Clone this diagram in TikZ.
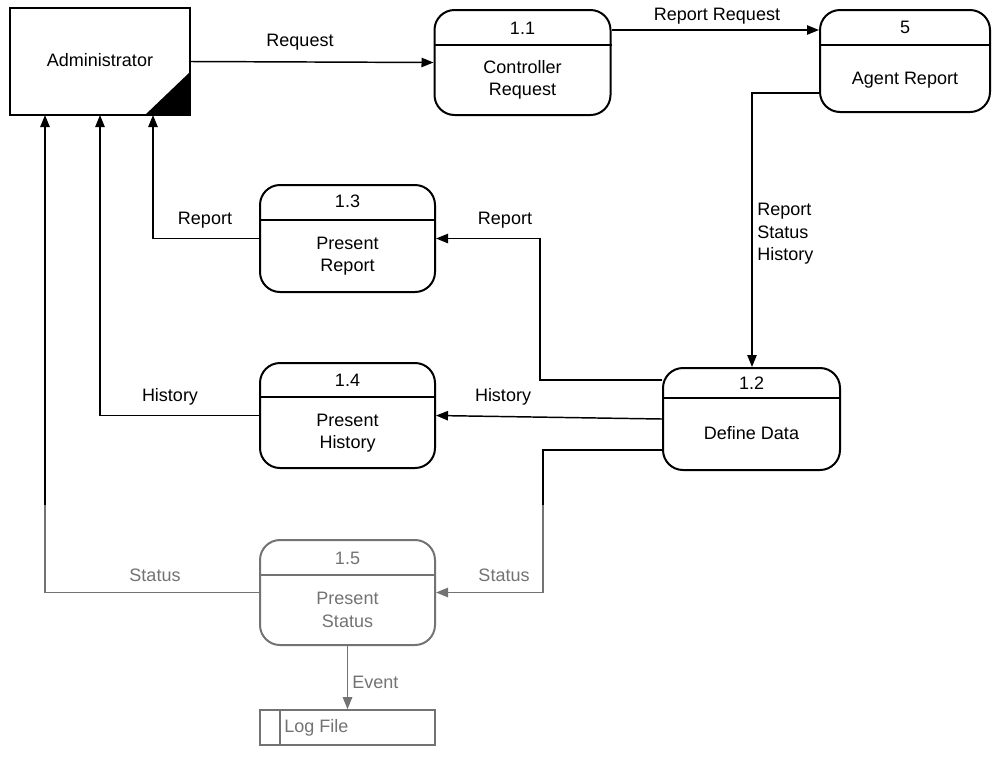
\documentclass[tikz,border=0pt]{standalone}
\usepackage{fontspec}
\setmainfont{Liberation Sans}
\usetikzlibrary{arrows.meta}
\begin{document}
\begin{tikzpicture}[x=0.75pt,y=-0.75pt,
  every node/.style={font=\fontsize{13.5}{17}\selectfont, inner sep=0pt},
  proc/.style={draw, line width=1.5pt, rounded corners=15pt, minimum width=#1},
  proc/.default={176*0.75pt},
  divider/.style={line width=1.5pt},
  flow/.style={line width=1.1pt, -{Triangle[length=9pt,width=7pt]}},
  txt/.style={align=center},
  lbl/.style={}]
\useasboundingbox (0,0) rectangle (998,758);

% external entity
\node[draw, line width=1.5pt, minimum width=180*0.75pt, minimum height=107*0.75pt] (adm) at (100,61.5) {};
\fill (145,115) -- (190,115) -- (190,72) -- cycle;
\node (admt) at (100,60) {Administrator};
\coordinate (a1) at (45,115);
\coordinate (a2) at (100,115);
\coordinate (a3) at (153,115);

% processes
\node[proc, minimum height=105*0.75pt] (p11) at (522.5,62.5) {};
\draw[divider] (p11.west |- 0,45) -- (p11.east |- 0,45);
\node (p11n) at (522.5,28) {1.1};
\node[txt] (p11t) at (522.5,80) {Controller\\Request};

\node[proc=170*0.75pt, minimum height=102*0.75pt] (p5) at (905,61) {};
\draw[divider] (p5.west |- 0,45) -- (p5.east |- 0,45);
\node (p5n) at (905,27) {5};
\node (p5t) at (905,80) {Agent Report};

\node[proc=177*0.75pt, minimum height=102*0.75pt] (p12) at (751.5,419) {};
\draw[divider] (p12.west |- 0,398) -- (p12.east |- 0,398);
\node (p12n) at (751.5,383) {1.2};
\node (p12t) at (751.5,433) {Define Data};

\node[proc=175*0.75pt, minimum height=107*0.75pt] (p13) at (347.5,238.5) {};
\draw[divider] (p13.west |- 0,220) -- (p13.east |- 0,220);
\node (p13n) at (347.5,201) {1.3};
\node[txt] (p13t) at (347.5,256) {Present\\Report};

\node[proc=175*0.75pt, minimum height=105*0.75pt] (p14) at (347.5,415.5) {};
\draw[divider] (p14.west |- 0,397) -- (p14.east |- 0,397);
\node (p14n) at (347.5,380) {1.4};
\node[txt] (p14t) at (347.5,433) {Present\\History};

\node[proc=175*0.75pt, minimum height=105*0.75pt] (p15) at (347.5,592.5) {};
\draw[divider] (p15.west |- 0,575) -- (p15.east |- 0,575);
\node (p15n) at (347.5,558) {1.5};
\node[txt] (p15t) at (347.5,610) {Present\\Status};

% data store
\node[draw, line width=1.2pt, minimum width=175*0.75pt, minimum height=35*0.75pt] (log) at (347.5,727.5) {};
\draw[line width=1.2pt] (280,710) -- (280,745);
\node[anchor=west] (logt) at (284,728) {Log File};

% bend points
\coordinate (rr) at (0,30);
\coordinate (ag) at (752,93);
\coordinate (r1) at (540,380);
\coordinate (s1) at (543,450);

% data flows
\draw[flow] (adm.east) -- (p11.west);
\node (l1) at (300,42) {Request};
\draw[flow] (p11.east |- rr) -- (p5.west |- rr);
\node (l2) at (717,16) {Report Request};
\draw[flow] (p5.west |- ag) -- (ag) -- (ag |- p12.north);
\node[anchor=north west, align=left] (l3) at (757,203) {Report\\Status\\History};
\draw[flow] (p12.west |- r1) -- (r1) |- (p13.east);
\node (l4) at (505,220) {Report};
\draw[flow] (p13.west) -| (a3);
\node (l5) at (205,220) {Report};
\draw[flow] (p12.west) -- (p14.east);
\node (l6) at (503,397) {History};
\draw[flow] (p14.west) -| (a2);
\node (l7) at (170,397) {History};
\draw[flow] (p12.west |- s1) -- (s1) |- (p15.east);
\node (l8) at (504,575) {Status};
\draw[flow] (p15.west) -| (a1);
\node (l9) at (155,575) {Status};
\draw[flow] (p15.south) -- (log.north);
\node[anchor=west] (l10) at (352,682) {Event};

% faded lower band of the sheet
\fill[white, opacity=0.45] (0,505) rectangle (998,758);
\end{tikzpicture}
\end{document}
